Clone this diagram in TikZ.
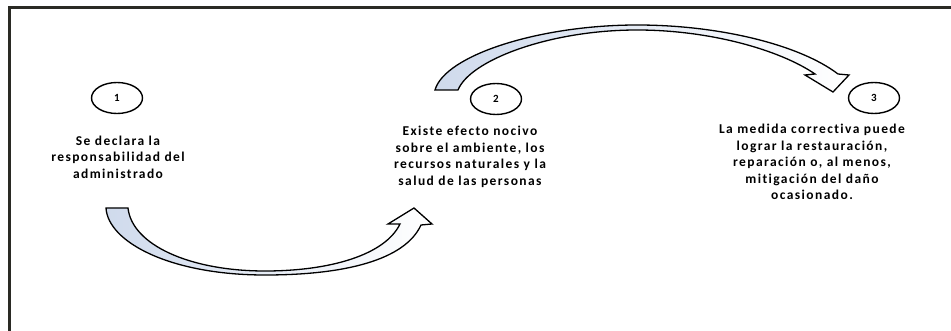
\documentclass[tikz,border=0pt]{standalone}
\usepackage{fontspec}
\setmainfont{Carlito}[LetterSpace=10.5, Ligatures=NoCommon]
\usepackage{tikz}
\usetikzlibrary{shapes.geometric}
\definecolor{framegray}{HTML}{2A2A24}
\definecolor{arrowblue}{HTML}{CFDAEC}

\begin{document}
\begin{tikzpicture}[x=1pt, y=-1pt,
    stepnum/.style={ellipse, draw=black, line width=1.4pt, minimum width=51pt, minimum height=31pt, inner sep=0pt, font=\fontsize{11}{13}\selectfont\bfseries},
    steptext/.style={align=center, inner sep=0pt, font=\fontsize{13.5}{16.6}\selectfont\bfseries},
    blockarrow/.style={draw=black, line width=1.3pt, line join=miter, left color=arrowblue, middle color=white, right color=white}]
    \useasboundingbox (0,0) rectangle (951,331);
    % frame
    \draw[framegray, line width=3pt] (9,331) -- (9,7.5) -- (951,7.5);
    % steps
    \node[stepnum] (c1) at (117,98) {1};
    \node[stepnum] (c2) at (496,99) {2};
    \node[stepnum] (c3) at (874,98) {3};
    \node[steptext] (t1) at (118,157) {Se declara la\\responsabilidad del\\administrado};
    \node[steptext] (t2) at (470,157) {Existe efecto nocivo\\sobre el ambiente, los\\recursos naturales y la\\salud de las personas};
    \node[steptext] (t3) at (812,162) {La medida correctiva puede\\lograr la restauración,\\reparación o, al menos,\\mitigación del daño\\ocasionado.};
    % lower arrow, 1 to 2
    \draw[blockarrow] (106,208) .. controls (108,242) and (170,275) .. (265,275)
        .. controls (345,275) and (405,260) .. (421,225)
        -- (432,224) -- (414,208) -- (388,224) -- (400,224)
        .. controls (385,255) and (330,271) .. (265,271)
        .. controls (190,271) and (132,245) .. (128,208) -- cycle;
    % upper arrow, 2 to 3
    \draw[blockarrow] (435,90) .. controls (445,55) and (540,25) .. (637,25)
        .. controls (720,25) and (800,45) .. (838,74)
        -- (849,75) -- (833,92) -- (805,75) -- (815,74)
        .. controls (780,50) and (710,30) .. (637,30)
        .. controls (550,30) and (470,60) .. (458,90) -- cycle;
\end{tikzpicture}
\end{document}
